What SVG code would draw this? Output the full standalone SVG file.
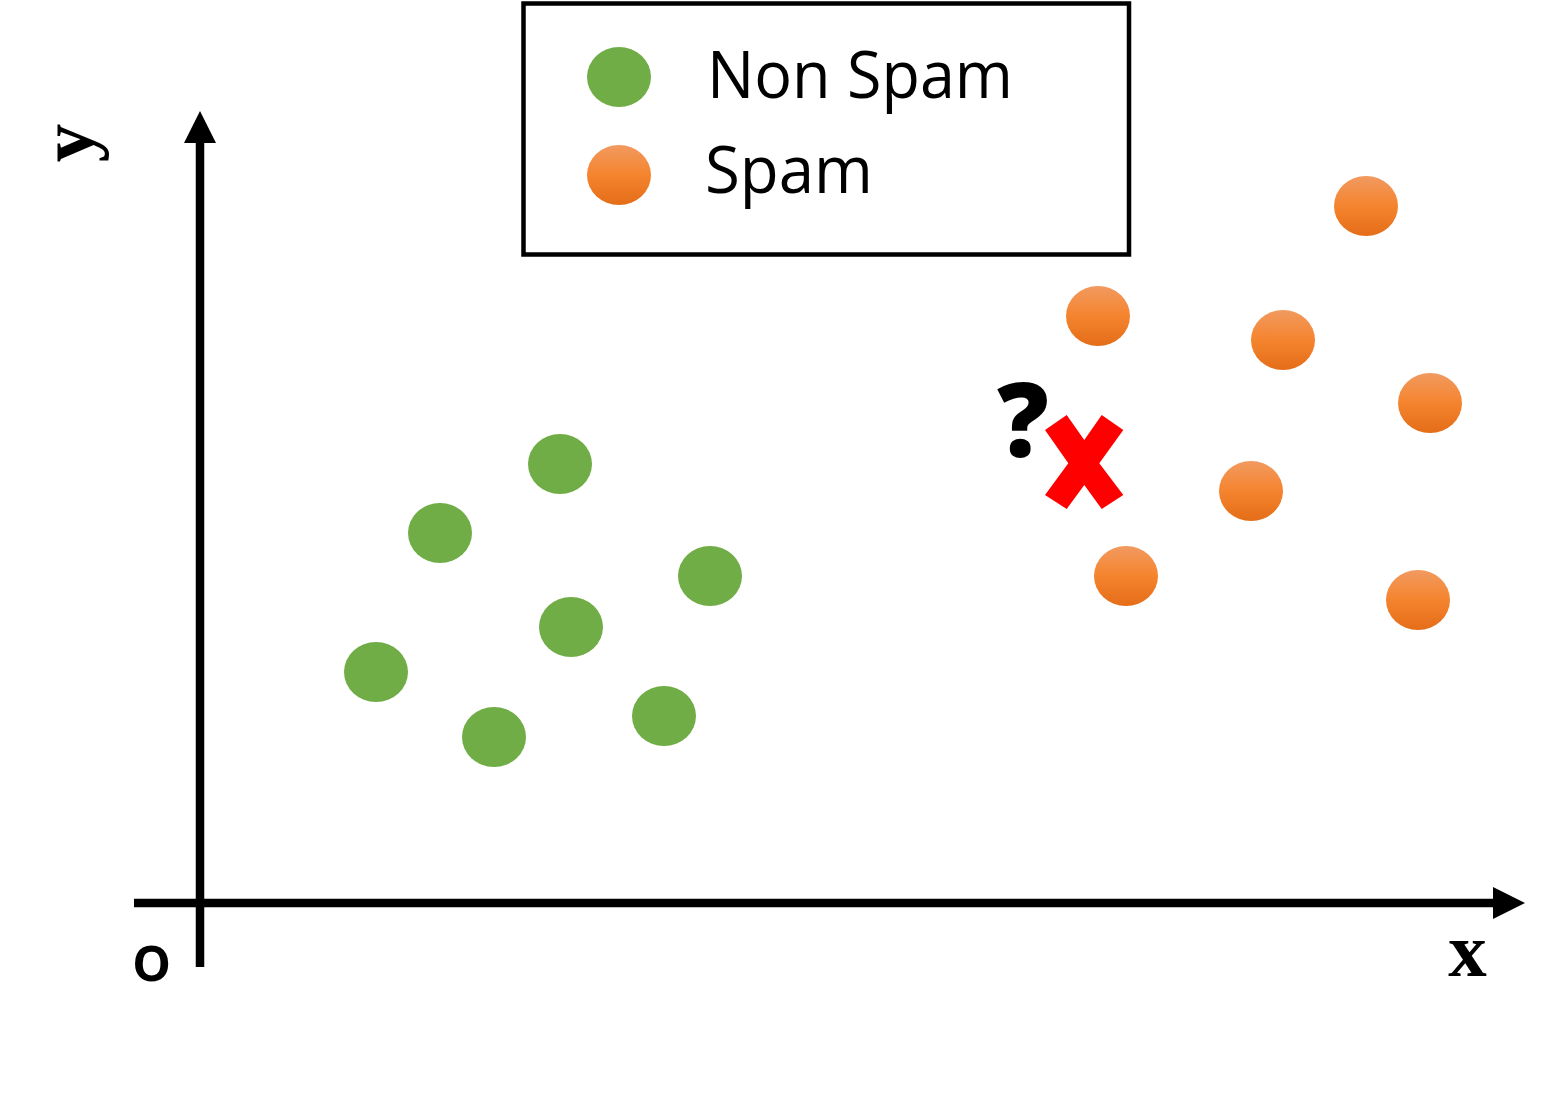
<svg xmlns="http://www.w3.org/2000/svg" width="1558" height="1100" viewBox="0 0 1558 1100">
<style>
.green{fill:#70AD47}
.orange{fill:url(#og)}
.axis{stroke:#000;stroke-width:8.5;fill:none}
.lbl{font-family:"Liberation Serif","Times New Roman",serif;font-weight:bold;font-size:77px;fill:#000}
.leg{font-family:"Open Sans","Noto Sans",sans-serif;font-size:66px;fill:#000}
</style>
<defs>
<linearGradient id="og" x1="0" y1="0" x2="0" y2="1">
<stop offset="0" stop-color="#F19A60"/>
<stop offset="0.5" stop-color="#F5842E"/>
<stop offset="1" stop-color="#E46D18"/>
</linearGradient>
<marker id="ah" markerUnits="userSpaceOnUse" markerWidth="32" markerHeight="32" viewBox="0 0 30 30" refX="0" refY="15" orient="auto">
<path d="M0,0 L30,15 L0,30 Z" fill="#000"/>
</marker>
</defs>
<rect width="1558" height="1100" fill="#fff"/>
<g id="connectors">
<line class="axis" x1="200" y1="967" x2="200" y2="143" marker-end="url(#ah)"/>
<line class="axis" x1="134" y1="903" x2="1493" y2="903" marker-end="url(#ah)"/>
</g>
<g id="axis-labels">
<text x="151.5" y="981" text-anchor="middle" style="font-family:'Open Sans','Noto Sans',sans-serif;font-weight:600;font-size:65px" fill="#000">o</text>
<text class="lbl" x="1467.5" y="976" text-anchor="middle">x</text>
<text class="lbl" transform="translate(93,143) rotate(-90)" text-anchor="middle">y</text>
</g>
<g id="legend">
<rect x="523.5" y="3.5" width="605.5" height="251" fill="#fff" stroke="#000" stroke-width="4.5"/>
<ellipse class="green" cx="619" cy="77" rx="32" ry="30"/>
<ellipse class="orange" cx="619" cy="175" rx="32" ry="30"/>
<text class="leg" x="707" y="98" textLength="306" lengthAdjust="spacingAndGlyphs">Non Spam</text>
<text class="leg" x="705" y="193" textLength="168" lengthAdjust="spacingAndGlyphs">Spam</text>
</g>
<g id="non-spam">
<ellipse class="green" cx="560" cy="464" rx="32" ry="30"/>
<ellipse class="green" cx="440" cy="533" rx="32" ry="30"/>
<ellipse class="green" cx="710" cy="576" rx="32" ry="30"/>
<ellipse class="green" cx="571" cy="627" rx="32" ry="30"/>
<ellipse class="green" cx="376" cy="672" rx="32" ry="30"/>
<ellipse class="green" cx="494" cy="737" rx="32" ry="30"/>
<ellipse class="green" cx="664" cy="716" rx="32" ry="30"/>
</g>
<g id="spam">
<ellipse class="orange" cx="1366" cy="206" rx="32" ry="30"/>
<ellipse class="orange" cx="1098" cy="316" rx="32" ry="30"/>
<ellipse class="orange" cx="1283" cy="340" rx="32" ry="30"/>
<ellipse class="orange" cx="1430" cy="403" rx="32" ry="30"/>
<ellipse class="orange" cx="1251" cy="491" rx="32" ry="30"/>
<ellipse class="orange" cx="1126" cy="576" rx="32" ry="30"/>
<ellipse class="orange" cx="1418" cy="600" rx="32" ry="30"/>
</g>
<g id="unknown">
<text x="1023" y="457" text-anchor="middle" style="font-family:'Open Sans','Noto Sans',sans-serif;font-weight:800;font-size:102px" fill="#000">?</text>
<polygon fill="#FF0000" points="1045,430 1066.7,415 1084.3,440 1101.7,415 1123.3,430 1099.3,463.3 1123.3,495 1101.7,509 1084.3,485 1066.7,509 1045,495 1068.3,463.3"/>
</g>
</svg>
